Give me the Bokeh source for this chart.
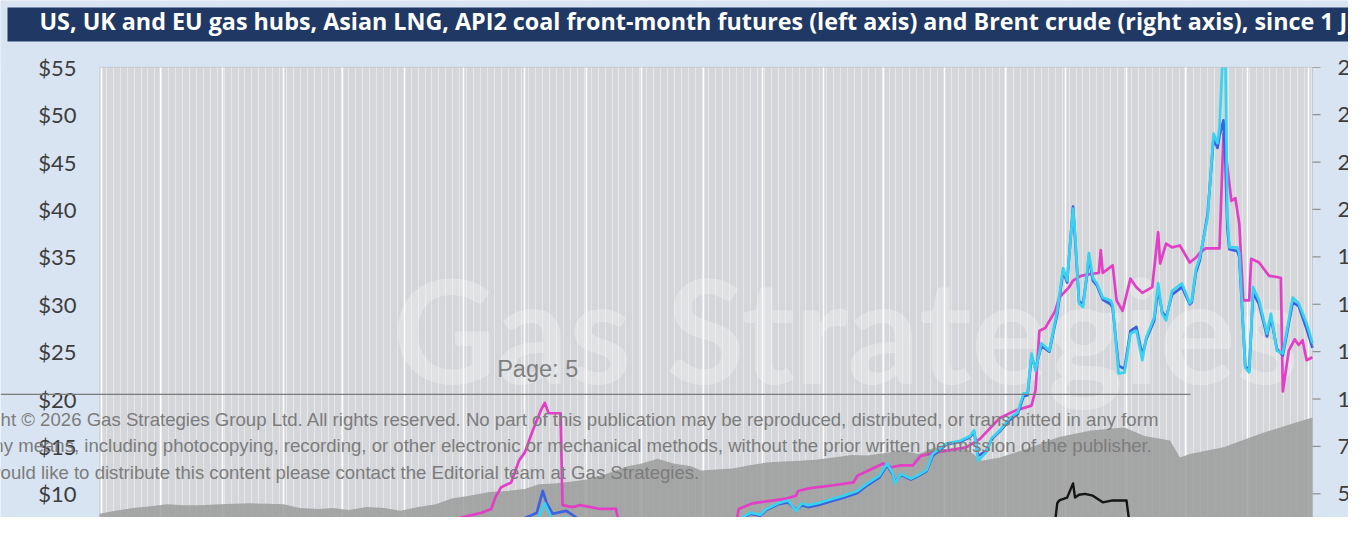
import pandas as pd
from bokeh.plotting import figure
from bokeh.models import (Range1d, FixedTicker, Grid, Label, LabelSet, BoxAnnotation, ColumnDataSource)
from bokeh.core.properties import value
from bokeh.embed import file_html
from bokeh.resources import INLINE

TITLE = ("US, UK and EU gas hubs, Asian LNG, API2 coal front-month futures (left axis) "
         "and Brent crude (right axis), since 1 June 2020")
COPY_1 = ("Copyright \u00a9 2026 Gas Strategies Group Ltd. All rights reserved. No part of this "
          "publication may be reproduced, distributed, or transmitted in any form")
COPY_2 = ("or by any means, including photocopying, recording, or other electronic or mechanical "
          "methods, without the prior written permission of the publisher.")
COPY_3 = "If you would like to distribute this content please contact the Editorial team at Gas Strategies."
PAGE = "Page: 5"
WATERMARK = "Gas Strategies"

left_ticks = [10, 15, 20, 25, 30, 35, 40, 45, 50, 55]
left_labels = ["$10", "$15", "$20", "$25", "$30", "$35", "$40", "$45", "$50", "$55"]
right_ticks = [50, 75, 100, 125, 150, 175, 200, 225, 250, 275]
right_labels = ["50", "75", "100", "125", "150", "175", "200", "225", "250", "275"]

# Asian LNG (JKM), $/MMBtu
jkm_dates = ["2020-05-31", "2020-06-15", "2020-07-01", "2020-07-20", "2020-08-05", "2020-08-20",
             "2020-09-05", "2020-09-20", "2020-10-05", "2020-10-14", "2020-10-19", "2020-10-22",
             "2020-10-29", "2020-11-08", "2020-11-15", "2020-11-17", "2020-11-24", "2020-12-04",
             "2020-12-10", "2020-12-15", "2020-12-17", "2020-12-20", "2020-12-25", "2020-12-29",
             "2021-01-01", "2021-01-05", "2021-01-09", "2021-01-11", "2021-01-13", "2021-01-19",
             "2021-01-20", "2021-01-25", "2021-01-29", "2021-02-08", "2021-02-16", "2021-02-18",
             "2021-02-28", "2021-03-17", "2021-03-24", "2021-04-10", "2021-04-18", "2021-04-19",
             "2021-04-26", "2021-05-03", "2021-05-13", "2021-05-18", "2021-05-19", "2021-05-25",
             "2021-06-06", "2021-06-16", "2021-06-18", "2021-06-26", "2021-07-01", "2021-07-05",
             "2021-07-10", "2021-07-16", "2021-07-20", "2021-07-27", "2021-08-12", "2021-08-19",
             "2021-08-23", "2021-08-29", "2021-09-06", "2021-09-14", "2021-09-16", "2021-09-18",
             "2021-09-21", "2021-09-26", "2021-09-28", "2021-10-03", "2021-10-05", "2021-10-09",
             "2021-10-14", "2021-10-18", "2021-10-19", "2021-10-20", "2021-10-25", "2021-10-27",
             "2021-10-30", "2021-11-03", "2021-11-06", "2021-11-09", "2021-11-14", "2021-11-17",
             "2021-11-18", "2021-11-21", "2021-11-24", "2021-11-28", "2021-12-03", "2021-12-06",
             "2021-12-08", "2021-12-11", "2021-12-18", "2021-12-20", "2021-12-24", "2021-12-26",
             "2021-12-28", "2021-12-30", "2022-01-02", "2022-01-03", "2022-01-07", "2022-01-12",
             "2022-01-18", "2022-01-19", "2022-01-22", "2022-01-25", "2022-01-27", "2022-01-29",
             "2022-01-31", "2022-02-03"]
jkm_values = [2.1, 2.0, 2.3, 2.6, 3.0, 3.6,
              4.2, 4.5, 4.8, 5.0, 5.9, 7.2,
              7.0, 6.95, 6.9, 6.3, 7.2, 7.7,
              8.0, 8.4, 9.6, 10.7, 11.2, 13.5,
              14.4, 16.7, 18.8, 19.6, 18.5, 18.5,
              8.8, 8.6, 8.8, 8.4, 8.4, 6.3,
              6.1, 6.4, 6.9, 7.0, 7.0, 8.4,
              9.0, 9.2, 9.5, 9.8, 10.3, 10.6,
              10.9, 11.2, 11.9, 12.7, 13.2, 12.8,
              13.0, 13.0, 14.0, 14.35, 14.9, 15.8,
              16.7, 18.0, 18.8, 19.3, 20.9, 27.2,
              27.5, 29.3, 30.7, 31.8, 32.5, 33.0,
              33.2, 33.3, 35.7, 33.3, 34.1, 30.4,
              29.3, 32.7, 31.8, 31.2, 31.8, 37.6,
              34.3, 36.4, 36.0, 36.2, 34.4, 34.9,
              35.4, 35.9, 35.9, 48.0, 40.9, 41.2,
              38.5, 30.4, 30.4, 34.8, 34.4, 33.0,
              32.8, 20.8, 25.1, 26.3, 25.7, 26.2,
              24.1, 24.4]

# EU gas hub (TTF), $/MMBtu
ttf_dates = ["2020-05-31", "2020-06-15", "2020-07-01", "2020-07-20", "2020-08-05", "2020-08-20",
             "2020-09-05", "2020-09-20", "2020-10-05", "2020-10-20", "2020-11-05", "2020-11-20",
             "2020-12-05", "2020-12-20", "2021-01-02", "2021-01-06", "2021-01-08", "2021-01-11",
             "2021-01-15", "2021-01-22", "2021-01-25", "2021-01-29", "2021-02-05", "2021-02-20",
             "2021-03-05", "2021-03-09", "2021-03-20", "2021-03-31", "2021-04-10", "2021-04-16",
             "2021-04-21", "2021-04-25", "2021-04-30", "2021-05-03", "2021-05-09", "2021-05-14",
             "2021-05-18", "2021-05-21", "2021-05-24", "2021-05-29", "2021-06-06", "2021-06-11",
             "2021-06-18", "2021-06-23", "2021-06-29", "2021-07-03", "2021-07-06", "2021-07-07",
             "2021-07-10", "2021-07-15", "2021-07-18", "2021-07-23", "2021-07-26", "2021-08-02",
             "2021-08-09", "2021-08-14", "2021-08-16", "2021-08-18", "2021-08-22", "2021-08-25",
             "2021-08-29", "2021-09-03", "2021-09-07", "2021-09-10", "2021-09-12", "2021-09-14",
             "2021-09-16", "2021-09-19", "2021-09-23", "2021-09-27", "2021-09-30", "2021-10-02",
             "2021-10-05", "2021-10-06", "2021-10-08", "2021-10-10", "2021-10-12", "2021-10-13",
             "2021-10-15", "2021-10-17", "2021-10-20", "2021-10-24", "2021-10-25", "2021-10-28",
             "2021-10-31", "2021-11-03", "2021-11-06", "2021-11-09", "2021-11-11", "2021-11-15",
             "2021-11-17", "2021-11-19", "2021-11-21", "2021-11-24", "2021-11-29", "2021-12-03",
             "2021-12-04", "2021-12-06", "2021-12-08", "2021-12-12", "2021-12-15", "2021-12-17",
             "2021-12-18", "2021-12-20", "2021-12-21", "2021-12-22", "2021-12-23", "2021-12-27",
             "2021-12-28", "2021-12-31", "2022-01-02", "2022-01-04", "2022-01-07", "2022-01-11",
             "2022-01-13", "2022-01-16", "2022-01-19", "2022-01-24", "2022-01-27", "2022-01-31",
             "2022-02-03"]
ttf_values = [1.8, 2.0, 2.2, 2.4, 3.0, 3.6,
              4.1, 4.3, 4.5, 4.8, 4.9, 5.0,
              5.3, 5.5, 5.9, 7.0, 7.6, 9.0,
              7.2, 7.5, 6.9, 5.8, 5.6, 5.5,
              5.7, 6.3, 6.3, 6.4, 6.4, 7.0,
              7.5, 8.0, 7.8, 8.4, 9.0, 9.3,
              8.2, 9.0, 8.8, 9.0, 9.5, 9.8,
              10.3, 11.1, 11.9, 13.2, 12.1, 11.1,
              12.1, 11.6, 11.9, 12.5, 14.2, 15.3,
              15.6, 16.1, 16.7, 13.5, 14.35, 15.9,
              16.7, 18.0, 18.6, 20.6, 20.6, 24.8,
              23.0, 25.9, 25.1, 29.3, 33.8, 32.5,
              40.1, 37.5, 30.1, 29.7, 33.2, 35.4,
              32.8, 32.2, 30.7, 30.4, 29.9, 22.7,
              22.8, 26.9, 27.2, 24.1, 26.5, 28.6,
              32.2, 29.0, 28.3, 31.4, 32.2, 30.1,
              30.4, 33.6, 34.9, 39.2, 48.0, 47.0,
              48.6, 58.0, 56.0, 39.2, 36.0, 36.0,
              35.4, 23.3, 22.8, 31.8, 30.4, 26.9,
              29.0, 25.1, 24.8, 30.7, 30.1, 28.0,
              25.9]

# UK gas hub (NBP), $/MMBtu
nbp_dates = ["2020-05-31", "2020-06-15", "2020-07-01", "2020-07-20", "2020-08-05", "2020-08-20",
             "2020-09-05", "2020-09-20", "2020-10-05", "2020-10-20", "2020-11-05", "2020-11-20",
             "2020-11-29", "2020-12-09", "2020-12-14", "2020-12-23", "2020-12-29", "2021-01-04",
             "2021-01-07", "2021-01-10", "2021-01-12", "2021-01-15", "2021-01-22", "2021-01-27",
             "2021-01-30", "2021-02-03", "2021-02-11", "2021-02-20", "2021-03-01", "2021-03-09",
             "2021-03-20", "2021-04-03", "2021-04-10", "2021-04-16", "2021-04-21", "2021-04-25",
             "2021-04-30", "2021-05-03", "2021-05-09", "2021-05-14", "2021-05-18", "2021-05-21",
             "2021-05-24", "2021-05-29", "2021-06-06", "2021-06-11", "2021-06-18", "2021-06-23",
             "2021-06-29", "2021-07-03", "2021-07-06", "2021-07-07", "2021-07-10", "2021-07-15",
             "2021-07-18", "2021-07-23", "2021-07-26", "2021-08-02", "2021-08-09", "2021-08-14",
             "2021-08-16", "2021-08-18", "2021-08-22", "2021-08-25", "2021-08-29", "2021-09-03",
             "2021-09-07", "2021-09-10", "2021-09-12", "2021-09-14", "2021-09-16", "2021-09-19",
             "2021-09-23", "2021-09-27", "2021-09-30", "2021-10-02", "2021-10-05", "2021-10-06",
             "2021-10-08", "2021-10-10", "2021-10-12", "2021-10-13", "2021-10-15", "2021-10-17",
             "2021-10-20", "2021-10-24", "2021-10-25", "2021-10-28", "2021-10-31", "2021-11-03",
             "2021-11-06", "2021-11-09", "2021-11-11", "2021-11-15", "2021-11-17", "2021-11-19",
             "2021-11-21", "2021-11-24", "2021-11-29", "2021-12-03", "2021-12-04", "2021-12-06",
             "2021-12-08", "2021-12-12", "2021-12-15", "2021-12-17", "2021-12-18", "2021-12-20",
             "2021-12-21", "2021-12-22", "2021-12-23", "2021-12-27", "2021-12-28", "2021-12-31",
             "2022-01-02", "2022-01-04", "2022-01-07", "2022-01-11", "2022-01-13", "2022-01-16",
             "2022-01-19", "2022-01-24", "2022-01-27", "2022-01-31", "2022-02-03"]
nbp_values = [1.6, 1.8, 2.0, 2.3, 2.9, 3.5,
              4.0, 4.3, 4.6, 4.8, 5.0, 5.3,
              5.8, 6.3, 6.4, 6.9, 7.2, 7.7,
              8.0, 10.3, 9.0, 7.9, 8.2, 7.5,
              6.9, 6.4, 5.8, 5.6, 5.8, 6.4,
              6.5, 6.9, 6.9, 7.0, 7.4, 7.9,
              7.7, 8.3, 8.9, 9.1, 8.3, 8.8,
              8.6, 8.8, 9.3, 9.6, 10.1, 10.9,
              11.7, 13.0, 12.0, 11.2, 12.0, 11.5,
              11.8, 12.4, 14.0, 15.2, 15.5, 16.0,
              16.5, 14.0, 14.5, 15.8, 16.6, 17.8,
              18.4, 20.3, 20.4, 24.5, 23.2, 25.6,
              25.0, 29.0, 33.5, 32.3, 40.3, 37.0,
              30.3, 30.0, 33.0, 35.0, 32.5, 32.0,
              30.5, 30.0, 29.6, 23.5, 23.2, 27.2,
              27.6, 24.6, 26.3, 28.3, 31.6, 29.2,
              28.6, 31.0, 31.8, 30.0, 30.2, 33.3,
              34.6, 39.5, 47.5, 46.5, 47.8, 49.4,
              45.0, 38.0, 35.8, 35.6, 35.0, 23.5,
              23.0, 31.2, 30.0, 26.6, 28.6, 25.3,
              24.6, 30.2, 29.8, 27.4, 25.4]

# API2 coal, $/MMBtu
coal_dates = ["2020-05-31", "2020-07-01", "2020-08-01", "2020-09-01", "2020-10-01", "2020-11-01",
              "2020-12-01", "2021-01-01", "2021-02-01", "2021-03-01", "2021-04-01", "2021-05-01",
              "2021-06-01", "2021-07-01", "2021-07-25", "2021-08-05", "2021-08-09", "2021-08-25",
              "2021-08-30", "2021-09-08", "2021-09-18", "2021-09-26", "2021-09-27", "2021-09-28",
              "2021-10-02", "2021-10-05", "2021-10-06", "2021-10-08", "2021-10-11", "2021-10-15",
              "2021-10-20", "2021-10-25", "2021-11-01", "2021-11-03", "2021-11-06", "2021-11-09",
              "2021-11-17", "2021-12-04", "2021-12-21", "2022-01-01", "2022-01-12", "2022-01-24",
              "2022-01-31", "2022-02-03"]
coal_values = [1.7, 1.9, 2.0, 2.2, 2.5, 2.5,
               2.8, 3.0, 2.7, 2.7, 2.8, 3.5,
               4.2, 5.0, 5.5, 5.8, 5.9, 6.1,
               6.4, 6.9, 7.0, 7.2, 9.0, 9.3,
               9.6, 11.1, 9.6, 9.9, 10.0, 9.8,
               9.1, 9.3, 9.3, 6.1, 6.3, 5.9,
               6.1, 5.8, 5.9, 5.8, 6.4, 6.6,
               7.0, 7.4]

# US gas hub (Henry Hub), $/MMBtu
hh_dates = ["2020-05-31", "2020-06-15", "2020-07-01", "2020-07-15", "2020-08-01", "2020-08-15",
            "2020-09-01", "2020-09-15", "2020-10-01", "2020-10-15", "2020-11-01", "2020-11-15",
            "2020-12-01", "2020-12-15", "2021-01-01", "2021-01-15", "2021-02-01", "2021-02-15",
            "2021-03-01", "2021-03-15", "2021-04-01", "2021-04-15", "2021-05-01", "2021-05-15",
            "2021-06-01", "2021-06-15", "2021-07-01", "2021-07-15", "2021-08-01", "2021-08-15",
            "2021-09-01", "2021-09-15", "2021-09-27", "2021-10-05", "2021-10-10", "2021-10-18",
            "2021-10-23", "2021-10-27", "2021-11-01", "2021-11-15", "2021-12-01", "2021-12-15",
            "2022-01-01", "2022-01-15", "2022-01-27", "2022-02-03"]
hh_values = [1.8, 1.7, 1.8, 1.7, 2.0, 2.3,
             2.6, 2.2, 2.5, 2.9, 3.2, 2.8,
             2.9, 2.7, 2.6, 2.7, 2.9, 3.2,
             2.8, 2.5, 2.6, 2.7, 2.9, 3.0,
             3.1, 3.3, 3.6, 3.8, 4.0, 3.9,
             4.6, 5.3, 5.8, 6.2, 5.7, 5.1,
             5.9, 6.1, 5.7, 4.9, 4.3, 3.8,
             3.8, 4.4, 5.5, 6.3]

# Brent crude, $/bbl (right axis)
brent_dates = ["2020-05-31", "2020-06-08", "2020-06-17", "2020-06-26", "2020-07-04", "2020-07-13",
               "2020-07-21", "2020-07-31", "2020-08-07", "2020-08-15", "2020-08-24", "2020-09-01",
               "2020-09-09", "2020-09-19", "2020-09-26", "2020-10-04", "2020-10-13", "2020-10-22",
               "2020-10-30", "2020-11-08", "2020-11-17", "2020-11-25", "2020-12-04", "2020-12-14",
               "2020-12-23", "2021-01-01", "2021-01-08", "2021-01-16", "2021-01-25", "2021-02-01",
               "2021-02-11", "2021-02-22", "2021-03-01", "2021-03-09", "2021-03-17", "2021-03-26",
               "2021-03-31", "2021-04-16", "2021-04-24", "2021-05-03", "2021-05-12", "2021-05-20",
               "2021-05-28", "2021-06-06", "2021-06-15", "2021-06-23", "2021-07-02", "2021-07-10",
               "2021-07-19", "2021-07-27", "2021-08-04", "2021-08-12", "2021-08-20", "2021-08-29",
               "2021-09-11", "2021-09-28", "2021-10-14", "2021-10-31", "2021-11-10", "2021-11-23",
               "2021-11-28", "2021-12-03", "2021-12-20", "2022-01-08", "2022-01-24", "2022-02-03"]
brent_values = [39.5, 41.0, 42.5, 43.5, 44.5, 44.0,
                44.0, 44.5, 44.8, 45.0, 44.8, 44.5,
                42.5, 42.0, 42.5, 41.5, 43.0, 42.5,
                41.0, 43.0, 44.5, 47.5, 49.0, 51.0,
                51.5, 52.5, 55.0, 55.5, 56.5, 57.5,
                60.5, 64.5, 66.0, 68.5, 66.0, 64.5,
                62.3, 63.3, 65.0, 66.5, 67.0, 67.5,
                68.0, 69.1, 70.5, 70.2, 71.5, 72.8,
                71.0, 74.4, 73.0, 73.9, 67.5, 69.1,
                73.5, 80.0, 83.4, 85.0, 80.5, 78.1,
                69.1, 71.0, 74.5, 81.8, 87.1, 90.2]

# ---- layout (pixels of the picture) ----
W, H = 1348, 517
PLOT_L, PLOT_R, PLOT_T = 99, 1312, 66.8
PX_PER_DOLLAR = 9.478
X_START, X_END = pd.Timestamp("2020-05-31"), pd.Timestamp("2022-02-03")
Y_TOP_VALUE = 55
RIGHT_FACTOR = 5

px_per_day = (PLOT_R - PLOT_L) / ((X_END - X_START).days)
x0 = X_START - pd.Timedelta(days=PLOT_L / px_per_day)
x1 = X_END + pd.Timedelta(days=(W - PLOT_R) / px_per_day)
y1 = Y_TOP_VALUE + PLOT_T / PX_PER_DOLLAR
y0 = Y_TOP_VALUE - (H - PLOT_T) / PX_PER_DOLLAR

BLUE_BG = "#d9e4f2"
PLOT_BG = "#d4d6d9"
NAVY = "#1f3864"
AXIS_GRAY = "#a0a0a0"

p = figure(width=W, height=H, output_backend="svg", toolbar_location=None,
           x_axis_type="datetime", x_axis_location=None, y_axis_location=None,
           x_range=Range1d(x0, x1), y_range=Range1d(y0, y1),
           min_border=0, min_border_left=0, min_border_right=0, min_border_top=0, min_border_bottom=0,
           background_fill_color=BLUE_BG, border_fill_color=BLUE_BG, outline_line_color=None)
p.extra_y_ranges = {"brent": Range1d(y0 * RIGHT_FACTOR, y1 * RIGHT_FACTOR)}
p.grid.visible = False

# plot area
p.add_layout(BoxAnnotation(left=X_START, right=X_END, bottom=0, top=Y_TOP_VALUE,
                           fill_color=PLOT_BG, fill_alpha=1.0, line_color=None, level="image"))

def ms(idx):
    return [t.value / 1e6 for t in idx]

minor_ticks = ms(pd.date_range(X_START, X_END, freq="84h"))
month_ticks = ms(pd.date_range("2020-06-01", X_END, freq="MS"))
p.add_layout(Grid(dimension=0, ticker=FixedTicker(ticks=minor_ticks),
                  grid_line_color="white", grid_line_alpha=0.42, grid_line_width=1))
p.add_layout(Grid(dimension=0, ticker=FixedTicker(ticks=month_ticks),
                  grid_line_color="white", grid_line_alpha=0.95, grid_line_width=1.6))

# watermark
p.add_layout(Label(x=392, y=H - 413, x_units="screen", y_units="screen", text=WATERMARK,
                   text_font="Lato", text_font_style="bold", text_font_size="143px",
                   text_color="white", text_alpha=0.28, text_baseline="bottom", level="underlay"))

def ts(d):
    return pd.to_datetime(d)

p.varea(x=ts(brent_dates), y1=0, y2=brent_values, y_range_name="brent",
        fill_color="#9a9a9a", fill_alpha=0.82)
p.line(ts(jkm_dates), jkm_values, line_color="#e23fc6", line_width=2.7, line_join="round")
p.line(ts(nbp_dates), nbp_values, line_color="#3c62df", line_width=2.7, line_join="round")
p.line(ts(ttf_dates), ttf_values, line_color="#37d3f1", line_width=2.7, line_join="round")
p.line(ts(coal_dates), coal_values, line_color="#141414", line_width=2.4, line_join="round")
p.line(ts(hh_dates), hh_values, line_color="#ff1c1c", line_width=2.4, line_join="round")

# area above the plot (clips the lines like the chart's plot area)
p.add_layout(BoxAnnotation(bottom=Y_TOP_VALUE, fill_color=BLUE_BG, fill_alpha=1.0,
                           line_color=None, level="annotation"))
# plot-area border (top, left, right = right axis line)
p.add_layout(BoxAnnotation(left=X_START, right=X_END, bottom=0, top=Y_TOP_VALUE,
                           fill_alpha=0, line_color=AXIS_GRAY, line_width=1, level="annotation"))

# right-axis tick marks
tick_src = ColumnDataSource(dict(
    x0=[X_END] * len(right_ticks),
    x1=[X_END + pd.Timedelta(days=8 / px_per_day)] * len(right_ticks),
    y=right_ticks))
p.segment(x0="x0", x1="x1", y0="y", y1="y", source=tick_src, y_range_name="brent",
          line_color="#8f8f8f", line_width=1.2)

# tick labels
lsrc = ColumnDataSource(dict(y=left_ticks, text=left_labels))
p.add_layout(LabelSet(x=76, y="y", text="text", source=lsrc, x_units="screen",
                      text_font=value("Lato"), text_font_size=value("22px"), text_color="#3d3d3d",
                      text_baseline="middle", text_align="right", level="overlay"))
rsrc = ColumnDataSource(dict(y=right_ticks, text=right_labels))
p.add_layout(LabelSet(x=1337, y="y", text="text", source=rsrc, x_units="screen", y_range_name="brent",
                      text_font=value("Lato"), text_font_size=value("22px"), text_color="#3d3d3d",
                      text_baseline="middle", text_align="left", level="overlay"))

# title bar
p.add_layout(BoxAnnotation(left=7, top=H - 7, bottom=H - 41,
                           left_units="screen", top_units="screen", bottom_units="screen",
                           fill_color=NAVY, fill_alpha=1.0, line_color=None, level="overlay"))
p.add_layout(Label(x=39, y=H - 36.4, x_units="screen", y_units="screen", text=TITLE,
                   text_font="Open Sans", text_font_style="bold", text_font_size="23.3px",
                   text_color="white", text_baseline="bottom", level="overlay"))

# page overlay
p.add_layout(BoxAnnotation(right=1190, bottom=H - 394.6, top=H - 393.3,
                           right_units="screen", bottom_units="screen", top_units="screen",
                           fill_color="#7a7a7a", fill_alpha=1.0, line_color=None, level="overlay"))
p.add_layout(Label(x=496.7, y=H - 381.0, x_units="screen", y_units="screen", text=PAGE,
                   text_font="Liberation Sans", text_font_size="23.5px", text_color="#7f7f7f",
                   text_baseline="bottom", level="overlay"))
for txt, bottom in [(COPY_1, 429.4), (COPY_2, 455.9), (COPY_3, 482.4)]:
    p.add_layout(Label(x=-64, y=H - bottom, x_units="screen", y_units="screen", text=txt,
                       text_font="Liberation Sans", text_font_size="18.6px", text_color="#7c7c7c",
                       text_baseline="bottom", level="overlay"))

open("out.html", "w").write(file_html(p, INLINE))
